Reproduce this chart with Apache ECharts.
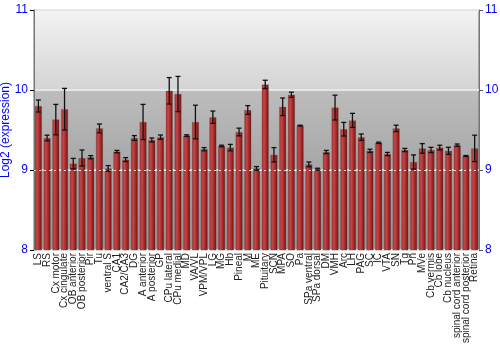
<!DOCTYPE html>
<html><head><meta charset="utf-8">
<script src="https://cdn.jsdelivr.net/npm/echarts@6/dist/echarts.min.js"></script>
<style>html,body{margin:0;padding:0;background:#fff}#c{width:500px;height:350px}</style>
</head><body><div id="c"></div>
<script>
const categories = ["LS","RS","Cx motor","Cx cingulate","OB anterior","OB posterior","Pir","Tu","ventral S","CA1","CA2/CA3","DG","A anterior","A posterior","GP","CPu lateral","CPu medial","MD","VA/VL","VPM/VPL","LG","MG","Hb","Pineal","M","ME","Pituitary","SCN","MPA","SO","Pa","SPa ventral","SPa dorsal","DM","VMH","Arc","LH","PAG","SC","IC","VTA","SN","Tg","Pn","MVe","Cb vermis","Cb lobe","Cb nucleus","spinal cord anterior","spinal cord posterior","Retina"];
const values = [9.80,9.40,9.63,9.76,9.08,9.15,9.16,9.52,9.02,9.23,9.13,9.40,9.60,9.375,9.41,9.99,9.95,9.43,9.60,9.26,9.66,9.30,9.28,9.475,9.75,9.02,10.07,9.19,9.79,9.94,9.555,9.07,9.01,9.225,9.78,9.51,9.62,9.41,9.24,9.34,9.20,9.52,9.25,9.10,9.27,9.25,9.28,9.24,9.31,9.175,9.27];
const errors = [0.075,0.035,0.19,0.26,0.065,0.10,0.02,0.055,0.035,0.015,0.025,0.03,0.22,0.025,0.027,0.165,0.22,0.01,0.21,0.02,0.077,0.01,0.04,0.048,0.055,0.023,0.052,0.09,0.11,0.033,0.005,0.03,0.012,0.02,0.155,0.085,0.088,0.04,0.02,0.008,0.02,0.04,0.02,0.088,0.06,0.033,0.03,0.044,0.015,0.006,0.165];
const yTicks = [8,9,10,11];

const chart = echarts.init(document.getElementById('c'), null, {renderer:'canvas'});
const font = 'Liberation Sans, Arial, sans-serif';
const errData = values.map((v,i)=>[i, v-errors[i], v+errors[i]]);
const bg = {type:'linear',x:0,y:0,x2:0,y2:1,colorStops:[
  {offset:0,color:'#f3f3f3'},{offset:0.333,color:'#d4d4d4'},
  {offset:0.334,color:'#bdbdbd'},{offset:0.666,color:'#a6a6a6'},
  {offset:0.667,color:'#a6a6a6'},{offset:1,color:'#989898'}]};
chart.setOption({
  animation:false,
  grid:{left:34,right:21,top:10,bottom:100,outerBoundsMode:'none',containLabel:false,show:true,backgroundColor:bg,borderColor:'#6e6e6e',borderWidth:1},
  xAxis:{type:'category',data:categories,boundaryGap:true,
    axisLine:{show:false},axisTick:{show:false},
    axisLabel:{interval:0,rotate:90,fontSize:10,color:'#222',fontFamily:font,margin:3}},
  yAxis:[{type:'value',min:yTicks[0],max:yTicks[yTicks.length-1],interval:1,position:'left',
    name:'Log2 (expression)',nameLocation:'middle',nameGap:22,nameMoveOverlap:false,nameTextStyle:{color:'#0000ff',fontSize:12,fontFamily:font},
    axisLine:{show:true,lineStyle:{color:'#777'}},axisTick:{show:true,length:4,lineStyle:{color:'#000'}},
    axisLabel:{color:'#0000ff',fontSize:12,fontFamily:font,margin:6},
    splitLine:{show:true,lineStyle:{color:'#e6e6e6',width:2}}},
   {type:'value',min:yTicks[0],max:yTicks[yTicks.length-1],interval:1,position:'right',
    axisLine:{show:true,lineStyle:{color:'#777'}},axisTick:{show:true,length:4,lineStyle:{color:'#555'}},
    axisLabel:{color:'#0000ff',fontSize:12,fontFamily:font,margin:6},splitLine:{show:false}}],
  series:[
    {type:'bar',data:values,barWidth:'80%',z:3,
     itemStyle:{borderColor:'rgba(80,80,80,0.5)',borderWidth:0.5,
       color:{type:'linear',x:0,y:0,x2:1,y2:0,colorStops:[{offset:0,color:'#a82e2e'},{offset:0.35,color:'#c44545'},{offset:0.7,color:'#9e2626'},{offset:1,color:'#6e1010'}]}},
     markLine:{silent:true,symbol:'none',label:{show:false},z:4,
       lineStyle:{color:'rgba(255,255,255,0.8)',type:[2,3],width:1},
       data:[{yAxis:9}]}},
    {type:'custom',data:errData,z:5,
     renderItem:function(params,api){
       const x=api.value(0);
       const lo=api.coord([x,api.value(1)]);
       const hi=api.coord([x,api.value(2)]);
       const w=2.5;
       const st={stroke:'#111',lineWidth:1.3};
       return {type:'group',children:[
         {type:'line',shape:{x1:lo[0],y1:lo[1],x2:hi[0],y2:hi[1]},style:st},
         {type:'line',shape:{x1:lo[0]-w,y1:lo[1],x2:lo[0]+w,y2:lo[1]},style:st},
         {type:'line',shape:{x1:hi[0]-w,y1:hi[1],x2:hi[0]+w,y2:hi[1]},style:st}
       ]};
     }}
  ]
});
</script></body></html>
